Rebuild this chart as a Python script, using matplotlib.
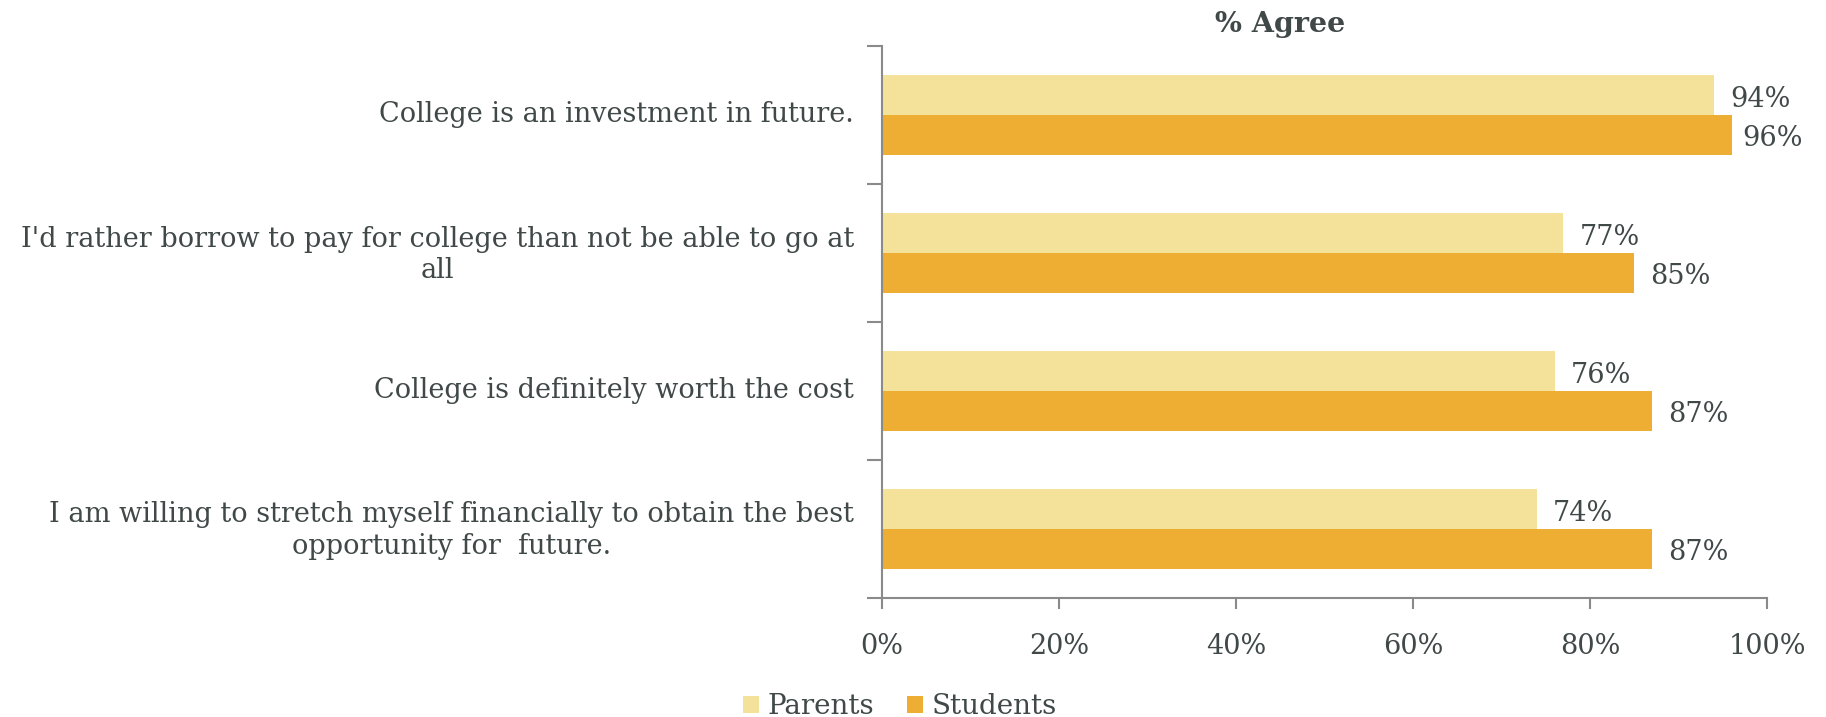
import matplotlib
matplotlib.use("Agg")
import matplotlib.pyplot as plt
import matplotlib.transforms as mtransforms
import numpy as np

categories = [
    "College is an investment in future.",
    "I'd rather borrow to pay for college than not be able to go at\nall",
    "College is definitely worth the cost",
    "I am willing to stretch myself financially to obtain the best\nopportunity for  future.",
]
parents = [94, 77, 76, 74]
students = [96, 85, 87, 87]
series_names = ["Parents", "Students"]
x_ticks = [0, 20, 40, 60, 80, 100]
x_tick_labels = ["0%", "20%", "40%", "60%", "80%", "100%"]
title = "% Agree"

TEXT = "#404848"
SPINE = "#8a8a8a"
C_PAR = "#F5E29A"
C_STU = "#EDAE33"
FONT = "DejaVu Serif"

plt.rcParams["font.family"] = [FONT]

fig = plt.figure(figsize=(18.26, 7.17), dpi=100)
ax = fig.add_axes([0.483, 0.166, 0.9677 - 0.483, 0.9358 - 0.166])

y = np.arange(len(categories))
h = 0.287
ax.barh(y - h / 2, parents, height=h, color=C_PAR, label=series_names[0])
ax.barh(y + h / 2, students, height=h, color=C_STU, label=series_names[1])

for yc, vals in ((y - h / 2, parents), (y + h / 2, students)):
    for yi, v in zip(yc, vals):
        dx = 16 if v < 95 else 11
        ax.annotate(f"{v}%", (v, yi), xytext=(dx, -4), textcoords="offset pixels",
                    ha="left", va="center", fontsize=19.5, color=TEXT)

ax.set_xlim(0, 100)
ax.set_ylim(len(categories) - 0.5, -0.5)

ax.set_yticks(y)
ax.set_yticklabels(categories, multialignment="center", fontsize=19.5, color=TEXT)
ax.tick_params(axis="y", which="major", length=0, pad=20)
ax.set_yticks(np.arange(len(categories) + 1) - 0.5, minor=True)
ax.tick_params(axis="y", which="minor", length=11, width=1.5, color=SPINE, direction="out")

# nudge the category labels slightly upward
lift = mtransforms.ScaledTranslation(0, 3.5 / 100, fig.dpi_scale_trans)
for lbl in ax.get_yticklabels():
    lbl.set_transform(lbl.get_transform() + lift)

ax.set_xticks(x_ticks)
ax.set_xticklabels(x_tick_labels, fontsize=19.5, color=TEXT)
ax.tick_params(axis="x", length=8, width=1.5, color=SPINE, pad=17)

for s in ["top", "right"]:
    ax.spines[s].set_visible(False)
for s in ["left", "bottom"]:
    ax.spines[s].set_color(SPINE)
    ax.spines[s].set_linewidth(1.5)

fig.text(1280 / 1826, 1 - 24 / 717, title, ha="center", va="center",
         fontsize=20.5, fontweight="bold", color=TEXT)

leg = fig.legend(loc="center", bbox_to_anchor=(900 / 1826, 1 - 707 / 717),
                 ncol=2, frameon=False, fontsize=20, handlelength=0.58,
                 handleheight=0.58, handletextpad=0.3, columnspacing=1.2)
for t in leg.get_texts():
    t.set_color(TEXT)

fig.savefig("out.png", dpi=100)
